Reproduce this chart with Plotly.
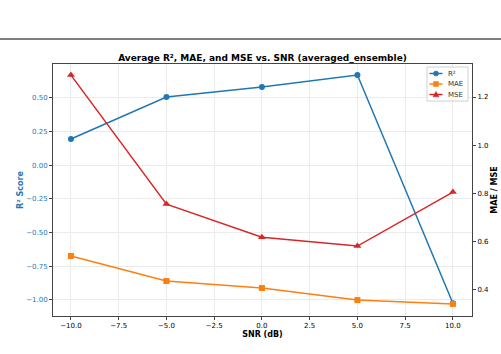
import plotly.graph_objects as go

snr = [-10, -5, 0, 5, 10]
r2 = [0.193, 0.505, 0.579, 0.668, -1.025]
mae = [0.541, 0.437, 0.408, 0.358, 0.342]
mse = [1.291, 0.756, 0.619, 0.582, 0.806]

names = ["R²", "MAE", "MSE"]
colors = ["#1f77b4", "#ff7f0e", "#d62728"]

L, R, T, B = 53, 29, 64, 38
W, H = 501, 354
pw = W - L - R
ph = H - T - B


def px(x):
    return (x - L) / pw


def py(y):
    return 1 - (y - T) / ph


fig = go.Figure()
fig.add_trace(go.Scatter(x=snr, y=r2, name=names[0], mode="lines+markers",
                         line=dict(color=colors[0], width=1.5),
                         marker=dict(symbol="circle", size=6, color=colors[0]), yaxis="y"))
fig.add_trace(go.Scatter(x=snr, y=mae, name=names[1], mode="lines+markers",
                         line=dict(color=colors[1], width=1.5),
                         marker=dict(symbol="square", size=6, color=colors[1]), yaxis="y2"))
fig.add_trace(go.Scatter(x=snr, y=mse, name=names[2], mode="lines+markers",
                         line=dict(color=colors[2], width=1.5),
                         marker=dict(symbol="triangle-up", size=7, color=colors[2]), yaxis="y2"))

# custom compact legend
shapes = [dict(type="line", xref="paper", yref="paper",
               x0=-L / pw, x1=1 + R / pw, y0=py(39), y1=py(39),
               line=dict(color="#555555", width=1.5)),
          dict(type="rect", xref="paper", yref="paper",
               x0=px(427), x1=px(468), y0=py(67), y1=py(101),
               line=dict(color="#d0d0d0", width=1), fillcolor="rgba(255,255,255,0.85)")]
annotations = []
rows = [73.5, 84, 94.5]
for i, yy in enumerate(rows):
    c = colors[i]
    shapes.append(dict(type="line", xref="paper", yref="paper",
                       x0=px(429.5), x1=px(442.5), y0=py(yy), y1=py(yy),
                       line=dict(color=c, width=1.5)))
    base = dict(xref="paper", yref="paper", xsizemode="pixel", ysizemode="pixel",
                xanchor=px(436), yanchor=py(yy), fillcolor=c, line=dict(color=c, width=0.5))
    if i == 0:
        shapes.append(dict(type="circle", x0=-2.5, x1=2.5, y0=-2.5, y1=2.5, **base))
    elif i == 1:
        shapes.append(dict(type="rect", x0=-2.5, x1=2.5, y0=-2.5, y1=2.5, **base))
    else:
        shapes.append(dict(type="path", path="M -3,-2.3 L 3,-2.3 L 0,3 Z", **base))
    annotations.append(dict(xref="paper", yref="paper", x=px(446), y=py(yy),
                            xanchor="left", yanchor="middle", showarrow=False,
                            text=names[i], font=dict(size=7, color="#333")))

font = "DejaVu Sans"
fig.update_layout(
    width=W, height=H,
    margin=dict(l=L, r=R, t=T, b=B, autoexpand=False),
    paper_bgcolor="white", plot_bgcolor="white",
    font=dict(family=font, size=7, color="black"),
    title=dict(text="<b>Average R², MAE, and MSE vs. SNR (averaged_ensemble)</b>",
               x=(L + pw / 2) / W, xanchor="center", y=1 - 58 / H, yanchor="middle",
               font=dict(size=9, color="black")),
    xaxis=dict(range=[-10.94, 11.0], tickvals=[-10, -7.5, -5, -2.5, 0, 2.5, 5, 7.5, 10],
               ticktext=["−10.0", "−7.5", "−5.0", "−2.5", "0.0", "2.5", "5.0", "7.5", "10.0"],
               showgrid=True, gridcolor="#ebebeb", gridwidth=0.8, zeroline=False,
               showline=True, linecolor="#444", linewidth=1, mirror=True,
               ticks="outside", ticklen=3, tickcolor="#444", automargin=False,
               tickfont=dict(size=7),
               title=dict(text="<b>SNR (dB)</b>", font=dict(size=8), standoff=0)),
    yaxis=dict(range=[-1.12, 0.75], tickvals=[-1.0, -0.75, -0.5, -0.25, 0, 0.25, 0.5],
               ticktext=["−1.00", "−0.75", "−0.50", "−0.25", "0.00", "0.25", "0.50"],
               showgrid=True, gridcolor="#ebebeb", gridwidth=0.8, zeroline=False,
               showline=True, linecolor="#444", linewidth=1, mirror=True,
               ticks="outside", ticklen=3, tickcolor="#444", automargin=False,
               tickfont=dict(size=7, color="#1f77b4"),
               title=dict(text="<b>R² Score</b>", font=dict(size=8, color="#1f77b4"), standoff=1)),
    yaxis2=dict(range=[0.292, 1.337], overlaying="y", side="right",
                tickvals=[0.4, 0.6, 0.8, 1.0, 1.2],
                showgrid=False, zeroline=False, automargin=False,
                ticks="outside", ticklen=3, tickcolor="#444", tickformat=".1f",
                tickfont=dict(size=7),
                title=dict(text="<b>MAE / MSE</b>", font=dict(size=8), standoff=3)),
    showlegend=False,
    shapes=shapes,
    annotations=annotations,
)

fig.write_html("out.html")
